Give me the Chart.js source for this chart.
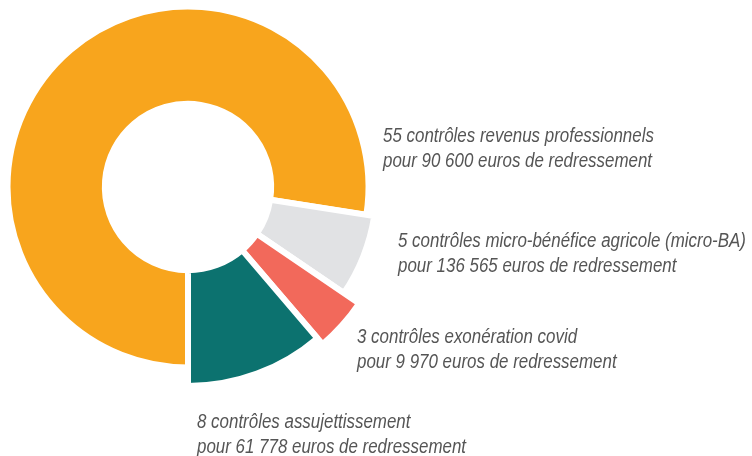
<!DOCTYPE html>
<html lang="fr">
<head>
<meta charset="utf-8">
<title>Contrôles et redressements</title>
<script src="https://cdn.jsdelivr.net/npm/chart.js@4.4.1/dist/chart.umd.min.js"></script>
<style>
  html, body { margin: 0; padding: 0; background: #fff; }
  #wrap { position: relative; width: 752px; height: 456px; }
</style>
</head>
<body>
<div id="wrap"><canvas id="controls" width="752" height="456"></canvas></div>
<script>
// Number of controls per type, and the matching label lines
var categories = ['revenus professionnels', 'micro-bénéfice agricole (micro-BA)', 'exonération covid', 'assujettissement'];
var controls = [55, 5, 3, 8];
var redressements = ['90 600', '136 565', '9 970', '61 778'];

// styling: colours, outer radius of each slice (px), label anchors
var colors = ['#F8A51D', '#E1E2E4', '#F2695B', '#0C726F'];
var outerRadius = [180.5, 188.5, 207, 199];
var labelPos = [[383, 142], [398, 247], [357, 343], [197, 428]];

// no narrow font installed: squeeze Liberation Sans like Arial Narrow
var FONT = 'italic 20px "Liberation Sans", Arial, sans-serif';
var NARROW = 0.846;

// Chart.js has no per-slice radius, so set it after the layout has run
var sliceRadius = {
  id: 'sliceRadius',
  afterDatasetUpdate: function (chart, args) {
    var arcs = chart.getDatasetMeta(args.index).data;
    arcs.forEach(function (arc, i) {
      arc.outerRadius = outerRadius[i];
    });
  }
};

var sliceLabels = {
  id: 'sliceLabels',
  afterDraw: function (chart) {
    var ctx = chart.ctx;
    controls.forEach(function (n, i) {
      var p = labelPos[i];
      ctx.save();
      ctx.translate(p[0], p[1]);
      ctx.scale(NARROW, 1);
      ctx.font = FONT;
      ctx.fillStyle = '#555555';
      ctx.textAlign = 'left';
      ctx.textBaseline = 'alphabetic';
      ctx.fillText(n + ' contrôles ' + categories[i], 0, 0);
      ctx.fillText('pour ' + redressements[i] + ' euros de redressement', 0, 25);
      ctx.restore();
    });
  }
};

new Chart(document.getElementById('controls'), {
  type: 'doughnut',
  data: {
    labels: categories,
    datasets: [
      {
        data: controls,
        backgroundColor: colors,
        borderColor: '#ffffff',
        borderWidth: 6,
        borderAlign: 'center',
        hoverOffset: 0,
      },
    ],
  },
  options: {
    responsive: false,
    devicePixelRatio: 1,
    animation: false,
    rotation: 180,
    cutout: 85,
    radius: 180,
    layout: { padding: { left: 0, top: 0, right: 376, bottom: 82 } },
    plugins: {
      legend: { display: false },
      tooltip: { enabled: false },
    },
  },
  plugins: [sliceRadius, sliceLabels],
});
</script>
</body>
</html>
